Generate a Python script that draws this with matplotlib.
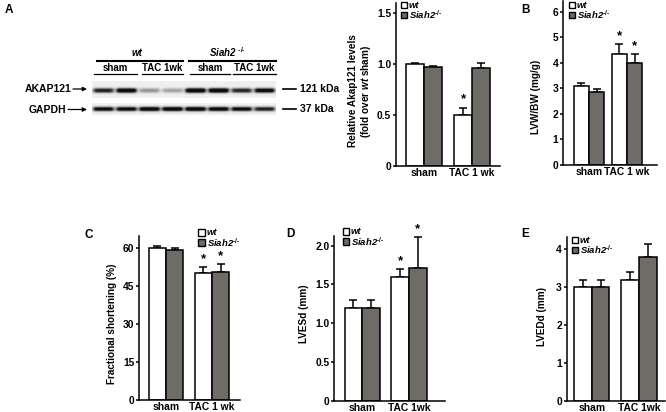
import numpy as np
import matplotlib.pyplot as plt
from matplotlib.patches import Rectangle

plt.rcParams['font.family'] = ['Liberation Sans', 'DejaVu Sans']
plt.rcParams['font.weight'] = 'bold'
plt.rcParams['mathtext.fontset'] = 'custom'
plt.rcParams['mathtext.rm'] = 'Liberation Sans:bold'
plt.rcParams['mathtext.it'] = 'Liberation Sans:italic:bold'
plt.rcParams['mathtext.bf'] = 'Liberation Sans:bold'

W, H = 666, 412
GRAY = '#6f6c67'

# ---- data ----
groups_long = ["sham", "TAC 1 wk"]
groups_short = ["sham", "TAC 1wk"]

akap_wt = [1.00, 0.50]
akap_wt_err = [0.005, 0.07]
akap_ko = [0.97, 0.96]
akap_ko_err = [0.01, 0.05]
akap_stars = [(1, "wt")]

lvw_wt = [3.10, 4.35]
lvw_wt_err = [0.12, 0.38]
lvw_ko = [2.85, 4.00]
lvw_ko_err = [0.12, 0.35]
lvw_stars = [(1, "wt"), (1, "ko")]

fs_wt = [60.3, 50.3]
fs_wt_err = [0.7, 2.2]
fs_ko = [59.5, 50.5]
fs_ko_err = [0.6, 3.3]
fs_stars = [(1, "wt"), (1, "ko")]

lvesd_wt = [1.20, 1.60]
lvesd_wt_err = [0.10, 0.10]
lvesd_ko = [1.20, 1.71]
lvesd_ko_err = [0.10, 0.40]
lvesd_stars = [(1, "wt"), (1, "ko")]

lvedd_wt = [3.00, 3.20]
lvedd_wt_err = [0.18, 0.20]
lvedd_ko = [3.00, 3.80]
lvedd_ko_err = [0.18, 0.35]
lvedd_stars = []

# western blot band strengths (lanes: wt sham x2, wt TAC x2, ko sham x2, ko TAC x2)
blot_akap121 = [0.80, 0.95, 0.45, 0.40, 1.00, 1.00, 0.78, 0.90]
blot_gapdh = [0.88, 0.88, 0.95, 0.95, 0.97, 0.92, 0.88, 0.80]

fig = plt.figure(figsize=(W / 100, H / 100), dpi=100)

TICK_FS = 7.4
LAB_FS = 7.2
LEG_FS = 6.8


def px_axes(left, top, right, bottom):
    return fig.add_axes([left / W, 1 - bottom / H, (right - left) / W, (bottom - top) / H])


def bar_panel(box, c0, step, width, ylim, yticks, ytl, wt, wt_err, ko, ko_err,
              stars, xlabels, ylabel, ylab_xy):
    left, top, right, bottom = box
    ax = px_axes(left, top, right, bottom)
    x = np.arange(len(wt))
    ax.bar(x - width / 2, wt, width, color='white', edgecolor='black', linewidth=1.1, zorder=2)
    ax.bar(x + width / 2, ko, width, color=GRAY, edgecolor='black', linewidth=1.1, zorder=2)
    for xs, v, e in ((x - width / 2, wt, wt_err), (x + width / 2, ko, ko_err)):
        ax.errorbar(xs, v, yerr=[np.zeros(len(e)), e], fmt='none', ecolor='black',
                    elinewidth=1.1, capsize=2.8, capthick=1.1, zorder=1)
    for gi, who in stars:
        if who == "wt":
            xx, top_v = gi - width / 2, wt[gi] + wt_err[gi]
        else:
            xx, top_v = gi + width / 2, ko[gi] + ko_err[gi]
        ax.annotate("*", (xx, top_v), xytext=(0, 1.5), textcoords='offset points',
                    ha='center', va='bottom', fontsize=9.5, fontweight='bold')
    ax.set_xlim((left - c0) / step, (right - c0) / step)
    ax.set_ylim(*ylim)
    ax.set_yticks(yticks)
    ax.set_yticklabels(ytl)
    ax.set_xticks(x)
    ax.set_xticklabels(xlabels)
    ax.tick_params(axis='y', direction='out', length=2.5, width=1.1, labelsize=TICK_FS, pad=1)
    ax.tick_params(axis='x', length=0, labelsize=TICK_FS, pad=1.5)
    for s in ('top', 'right'):
        ax.spines[s].set_visible(False)
    for s in ('left', 'bottom'):
        ax.spines[s].set_linewidth(1.1)
    ax.set_ylabel(ylabel, fontsize=LAB_FS, fontweight='bold', linespacing=1.1)
    lx, ly = ylab_xy
    ax.yaxis.set_label_coords((lx - left) / (right - left), (bottom - ly) / (bottom - top))
    return ax


yl_A = "Relative Akap121 levels\n(fold over $\\mathit{wt}$ sham)"
bar_panel((396, 2.5, 500, 165.7), 424, 48, 0.375, (0, 1.6), [0, 0.5, 1.0, 1.5],
          ["0", "0.5", "1.0", "1.5"], akap_wt, akap_wt_err, akap_ko, akap_ko_err,
          akap_stars, groups_long, yl_A, (373, 91))
bar_panel((563.3, 1.5, 656.7, 165), 589, 38, 0.4, (0, 6.4), range(7),
          [str(v) for v in range(7)], lvw_wt, lvw_wt_err, lvw_ko, lvw_ko_err,
          lvw_stars, groups_long, "LVW/BW (mg/g)", (541, 97))
bar_panel((139, 235.7, 240, 400), 166, 46, 0.38, (0, 65), [0, 15, 30, 45, 60],
          ["0", "15", "30", "45", "60"], fs_wt, fs_wt_err, fs_ko, fs_ko_err,
          fs_stars, groups_long, "Fractional shortening (%)", (117, 324))
bar_panel((334.3, 235.6, 445, 400.7), 362.3, 46.7, 0.38, (0, 2.13), [0, 0.5, 1.0, 1.5, 2.0],
          ["0", "0.5", "1.0", "1.5", "2.0"], lvesd_wt, lvesd_wt_err, lvesd_ko, lvesd_ko_err,
          lvesd_stars, groups_short, "LVESd (mm)", (309, 314))
bar_panel((566.7, 236.8, 665, 400.7), 591.7, 47.3, 0.375, (0, 4.33), range(5),
          [str(v) for v in range(5)], lvedd_wt, lvedd_wt_err, lvedd_ko, lvedd_ko_err,
          lvedd_stars, groups_short, "LVEDd (mm)", (547, 316))

# ---- overlay in pixel coordinates: blot, legends, panel letters ----
ov = fig.add_axes([0, 0, 1, 1], zorder=10)
ov.patch.set_alpha(0)


def blot_strip(strengths, x0, x1, y0, y1, band_y, sigma, halfw):
    sc = 4
    nx, ny = int((x1 - x0) * sc), int((y1 - y0) * sc)
    xs = x0 + (np.arange(nx) + 0.5) / sc
    ys = y0 + (np.arange(ny) + 0.5) / sc
    lane_w = (x1 - x0) / len(strengths)
    img = np.full((ny, nx), 0.94)
    vprof = np.exp(-0.5 * ((ys - band_y) / sigma) ** 2)
    for i, s in enumerate(strengths):
        cx = x0 + lane_w * (i + 0.5)
        hprof = 1 / (1 + np.exp((np.abs(xs - cx) - halfw) / 1.0))
        img -= 1.15 * s ** 1.5 * np.outer(np.clip(vprof * 1.25, 0, 1), hprof)
    img = np.clip(img, 0.05, 1)
    ov.imshow(img, extent=(x0, x1, y1, y0), cmap='gray', vmin=0, vmax=1,
              aspect='auto', interpolation='bilinear')


blot_strip(blot_akap121, 92.3, 276, 81, 98, 90.5, 1.5, 9.8)
blot_strip(blot_gapdh, 92.3, 276, 103, 115, 109, 1.4, 10.0)

ov.set_xlim(0, W)
ov.set_ylim(H, 0)
ov.axis('off')

# blot headers
ov.text(137, 53, "wt", style='italic', fontsize=7, ha='center', va='center')
ov.text(227, 52.5, "Siah2 $^{\\text{-/-}}$", style='italic', fontsize=7, ha='center', va='center')
ov.plot([96.7, 182.7], [60.7, 60.7], color='black', lw=1.5)
ov.plot([189, 276], [60.7, 60.7], color='black', lw=1.5)
lane_labels = ["sham", "TAC 1wk", "sham", "TAC 1wk"]
lane_spans = [(94, 136.7), (141.7, 183.3), (190, 230), (233, 276)]
for lab, (a, b) in zip(lane_labels, lane_spans):
    ov.text((a + b) / 2, 68, lab, fontsize=7, ha='center', va='center')
    ov.plot([a, b], [74.3, 74.3], color='black', lw=0.9)

ov.text(71.5, 89, "AKAP121", fontsize=7.5, ha='right', va='center')
ov.text(66.5, 109.5, "GAPDH", fontsize=7.5, ha='right', va='center')
for y, xa in ((89, 73), (109.5, 68)):
    ov.annotate("", xy=(87, y), xytext=(xa, y),
                arrowprops=dict(arrowstyle='-|>', color='black', lw=0.9,
                                mutation_scale=6, shrinkA=0, shrinkB=0))
for y, lab in ((89, "121 kDa"), (109, "37 kDa")):
    ov.plot([283, 296], [y, y], color='black', lw=1.2)
    ov.text(299.5, y, lab, fontsize=7.5, ha='left', va='center')

# legends
legend_pos = [(404, 5), (572, 5), (201.7, 232.3), (346, 231.7), (575, 240)]
for lx, ly in legend_pos:
    for k, (fc, lab) in enumerate((('white', "wt"), (GRAY, "Siah2$^{\\text{-/-}}$"))):
        yy = ly + k * 10
        ov.add_patch(Rectangle((lx - 3.3, yy - 3.3), 6.6, 6.6, facecolor=fc,
                               edgecolor='black', lw=1.0))
        ov.text(lx + 5, yy, lab, style='italic', fontsize=LEG_FS, ha='left', va='center')

# panel letters
for lab, (x, y) in zip("ABCDE", [(9, 10), (526, 10), (89, 235), (290, 233.5), (525, 234)]):
    ov.text(x, y, lab, fontsize=8.5, fontweight='bold', ha='center', va='center')

fig.savefig("out.png", dpi=100)
